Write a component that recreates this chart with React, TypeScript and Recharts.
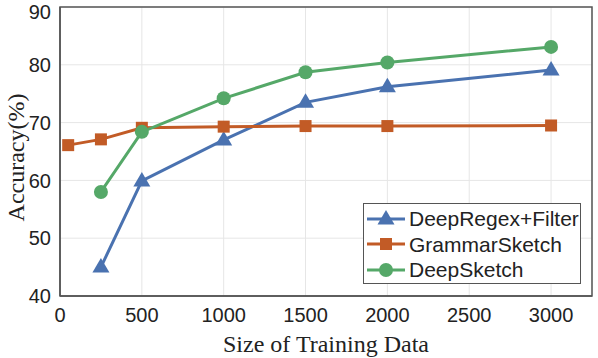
import React from 'react';
import { LineChart, Line, XAxis, YAxis, CartesianGrid, ReferenceArea } from 'recharts';

const deepRegexX = [250, 500, 1000, 1500, 2000, 3000];
const deepRegexY = [45.0, 59.9, 67.0, 73.5, 76.2, 79.1];
const grammarX = [50, 250, 500, 1000, 1500, 2000, 3000];
const grammarY = [66.1, 67.1, 69.1, 69.3, 69.4, 69.4, 69.5];
const deepSketchX = [250, 500, 1000, 1500, 2000, 3000];
const deepSketchY = [58.0, 68.4, 74.2, 78.7, 80.4, 83.1];
const xTicks = [0, 500, 1000, 1500, 2000, 2500, 3000];
const yTicks = [40, 50, 60, 70, 80, 90];

const BLUE = '#4a72b0';
const ORANGE = '#c25b26';
const GREEN = '#55a868';

const toPts = (xs: number[], ys: number[]) => xs.map((x, i) => ({ x, y: ys[i] }));
const seriesDefs = [
  { name: 'DeepRegex+Filter', color: BLUE, shape: 'tri', data: toPts(deepRegexX, deepRegexY) },
  { name: 'GrammarSketch', color: ORANGE, shape: 'sq', data: toPts(grammarX, grammarY) },
  { name: 'DeepSketch', color: GREEN, shape: 'circ', data: toPts(deepSketchX, deepSketchY) },
];

const Marker = ({ cx, cy, shape, color }: any) => {
  if (cx == null || cy == null) return null;
  if (shape === 'tri') {
    return <polygon points={`${cx},${cy - 9} ${cx - 8.5},${cy + 5.5} ${cx + 8.5},${cy + 5.5}`} fill={color} />;
  }
  if (shape === 'sq') {
    return <rect x={cx - 6} y={cy - 6} width={12} height={12} fill={color} />;
  }
  return <circle cx={cx} cy={cy} r={7} fill={color} />;
};

const LegendBox = () => (
  <div
    style={{
      position: 'absolute', left: 363, top: 203, width: 218, height: 81,
      border: '1.5px solid #555', background: '#fff', boxSizing: 'border-box',
      fontFamily: '"Liberation Sans", Arial, sans-serif', fontSize: 21, color: '#222', paddingTop: 2,
    }}
  >
    {seriesDefs.map((s) => (
      <div key={s.name} style={{ display: 'flex', alignItems: 'center', height: 25.5 }}>
        <svg width={44} height={20} style={{ marginLeft: 1 }}>
          <line x1={2} y1={10} x2={40} y2={10} stroke={s.color} strokeWidth={3} />
          <Marker cx={21} cy={10} shape={s.shape} color={s.color} />
        </svg>
        <span style={{ lineHeight: '25px' }}>{s.name}</span>
      </div>
    ))}
  </div>
);

export default function App() {
  return (
    <div style={{ position: 'absolute', left: 0, top: 0, width: 598, height: 358 }}>
      <LineChart width={598} height={358} margin={{ top: 7, right: 6, left: 0, bottom: 0 }}>
        <CartesianGrid stroke="#e6e6e6" strokeWidth={1} />
        <XAxis
          type="number"
          dataKey="x"
          domain={[0, 3250]}
          ticks={xTicks}
          allowDuplicatedCategory={false}
          height={62}
          tickLine={false}
          axisLine={{ stroke: '#555', strokeWidth: 1.5 }}
          tick={{ fill: '#222', fontSize: 20, fontFamily: '"Liberation Sans", Arial, sans-serif', dy: 4 }}
          label={{ value: 'Size of Training Data', position: 'insideBottom', offset: 6, style: { fill: '#222', fontSize: 24, fontFamily: '"Liberation Serif", "Times New Roman", serif' } }}
        />
        <YAxis
          type="number"
          domain={[40, 90]}
          ticks={yTicks}
          width={60}
          tickLine={false}
          axisLine={{ stroke: '#555', strokeWidth: 1.5 }}
          tick={{ fill: '#222', fontSize: 20, fontFamily: '"Liberation Sans", Arial, sans-serif', dx: -1 }}
          label={{
            content: (props: any) => {
              const vb = props.viewBox;
              const cx = 24;
              const cy = vb.y + vb.height / 2 + 6;
              return (
                <text x={cx} y={cy} transform={`rotate(-90 ${cx} ${cy})`} textAnchor="middle" fill="#222" fontSize={24} fontFamily='"Liberation Serif", "Times New Roman", serif'>
                  Accuracy(%)
                </text>
              );
            },
          }}
        />
        <ReferenceArea x1={0} x2={3250} y1={40} y2={90} fill="none" stroke="#555" strokeWidth={1.5} ifOverflow="visible" />
        {seriesDefs.map((s) => (
          <Line
            key={s.name}
            data={s.data}
            dataKey="y"
            name={s.name}
            stroke={s.color}
            strokeWidth={3}
            isAnimationActive={false}
            dot={(p: any) => <Marker key={`${s.name}-${p.index}`} cx={p.cx} cy={p.cy} shape={s.shape} color={s.color} />}
            activeDot={false}
          />
        ))}
      </LineChart>
      <LegendBox />
    </div>
  );
}
